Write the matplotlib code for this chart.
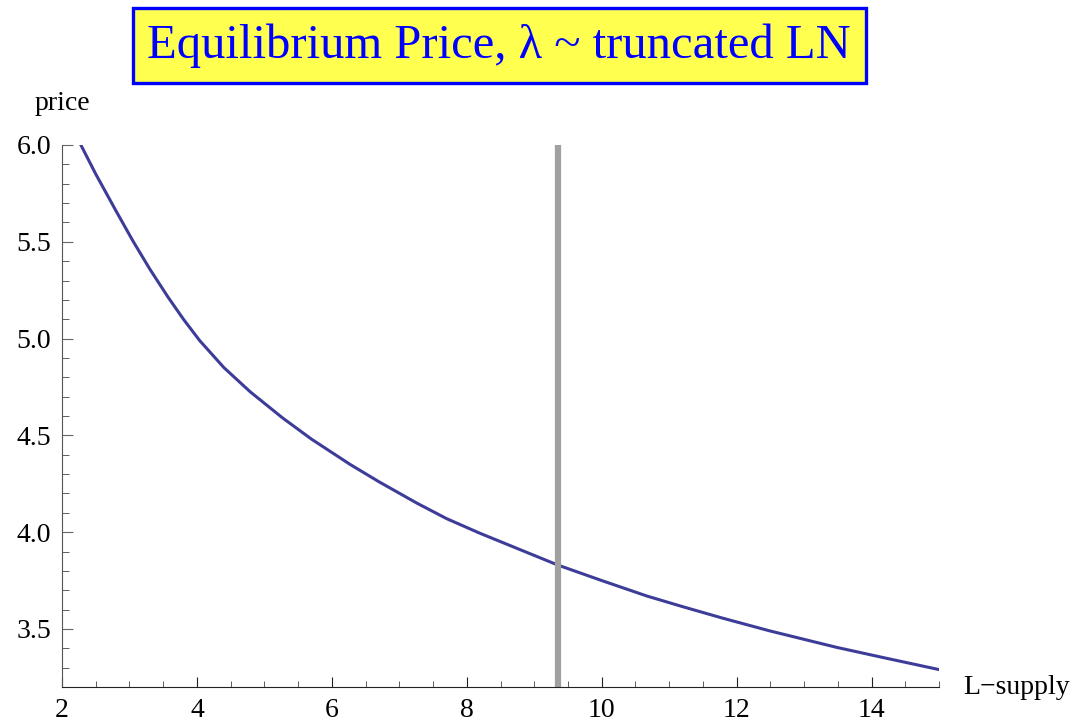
import matplotlib
matplotlib.use("Agg")
import matplotlib.pyplot as plt
from matplotlib.patches import Rectangle
from matplotlib.ticker import MultipleLocator

# equilibrium price vs supply
supply = [2.28, 2.5, 2.8, 3.05, 3.3, 3.57, 3.8, 4.04, 4.4, 4.79, 5.27, 5.7,
          6.27, 6.7, 7.26, 7.7, 8.19, 9.35, 10.0, 10.67, 11.2, 11.8, 12.49,
          13.48, 14.2, 15.0]
price = [6.00, 5.85, 5.66, 5.505, 5.36, 5.215, 5.10, 4.99, 4.85, 4.725, 4.59,
         4.48, 4.35, 4.26, 4.15, 4.07, 3.995, 3.83, 3.75, 3.67, 3.615, 3.555,
         3.49, 3.405, 3.35, 3.29]
mean_supply = 9.35

title = "Equilibrium Price, \u03bb ~ truncated LN"

plt.rcParams['font.family'] = ['Liberation Serif', 'DejaVu Serif']

fig = plt.figure(figsize=(10.85, 7.28), dpi=100)
ax = fig.add_axes([62 / 1085, 1 - 687 / 728, 877 / 1085, 542 / 728])

ax.plot(supply, price, color='#3d3d99', lw=2.2, solid_joinstyle='round')
ax.axvline(mean_supply, color='#a0a0a0', lw=4.5)

ax.set_xlim(2, 15)
ax.set_ylim(3.2, 6.0)
ax.xaxis.set_major_locator(MultipleLocator(2))
ax.xaxis.set_minor_locator(MultipleLocator(0.5))
ax.yaxis.set_major_locator(MultipleLocator(0.5))
ax.yaxis.set_minor_locator(MultipleLocator(0.1))
ax.yaxis.set_major_formatter(plt.FormatStrFormatter('%.1f'))

for s in ['top', 'right']:
    ax.spines[s].set_visible(False)
ax.spines['left'].set_color('#555555')
ax.spines['bottom'].set_color('#222222')
ax.tick_params(which='both', direction='in', labelsize=20, pad=8)
ax.tick_params(axis='x', which='major', length=7.5, color='#222222')
ax.tick_params(axis='x', which='minor', length=4.5, color='#444444')
ax.tick_params(axis='y', which='major', length=8, color='#666666')
ax.tick_params(axis='y', which='minor', length=5, color='#444444')

fig.text(62 / 1085, 1 - 103 / 728, 'price', fontsize=20, ha='center', va='center')
fig.text(963 / 1085, 1 - 687 / 728, 'L\u2212supply', fontsize=20, ha='left', va='center')

# title box
fig.patches.append(Rectangle((133 / 1085, 1 - 83 / 728), 733 / 1085, 75 / 728,
                             transform=fig.transFigure, facecolor='#ffff50',
                             edgecolor='#0000ff', lw=2.4))
fig.text(499 / 1085, 1 - 46 / 728, title, fontsize=35, color='#0000ff',
         ha='center', va='center')

fig.savefig('out.png', dpi=100)
